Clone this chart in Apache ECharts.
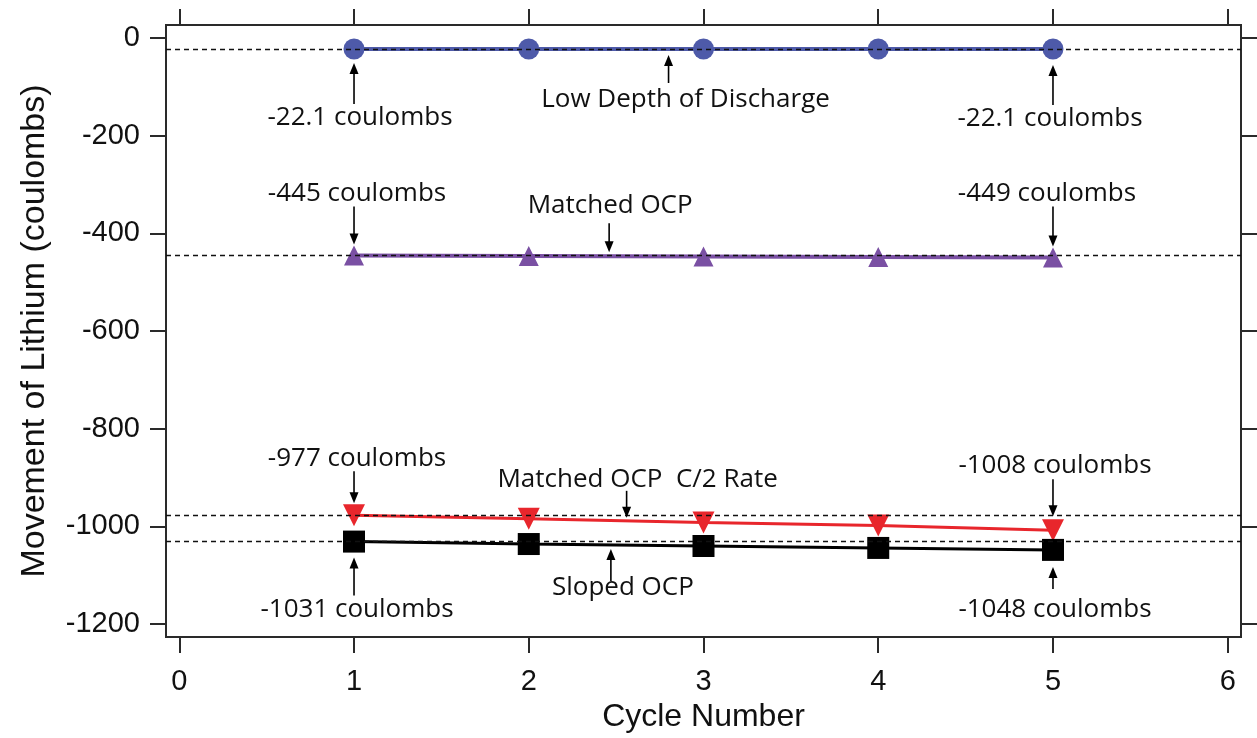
<!DOCTYPE html>
<html>
<head>
<meta charset="utf-8">
<title>Movement of Lithium per Cycle</title>
<script src="https://cdn.jsdelivr.net/npm/echarts@6/dist/echarts.min.js"></script>
<style>
  html, body { margin: 0; padding: 0; background: #fff; }
  #chart { width: 1257px; height: 738px; }
</style>
</head>
<body>
<div id="chart"></div>
<script>
// Cycle numbers and lithium movement (coulombs) for each test condition
const cycles = [1, 2, 3, 4, 5];
const lowDepthOfDischarge = [-22.1, -22.1, -22.1, -22.1, -22.1];
const matchedOCP = [-445, -446, -447, -448, -449];
const matchedOCPHalfC = [-977, -984, -992, -998, -1008];
const slopedOCP = [-1031, -1036, -1040, -1044, -1048];

// Tick values on both axes
const xTicks = [0, 1, 2, 3, 4, 5, 6];
const yTicks = [0, -200, -400, -600, -800, -1000, -1200];

// Callouts: which curve, where along it (cycle), text, and side of the curve
const calloutSeries = ['low', 'low', 'low', 'matched', 'matched', 'matched',
                       'halfC', 'halfC', 'halfC', 'sloped', 'sloped', 'sloped'];
const calloutCycle = [1, 5, 2.8, 1, 5, 2.46, 1, 5, 2.56, 1, 5, 2.47];
const calloutText = ['-22.1 coulombs', '-22.1 coulombs', 'Low Depth of Discharge',
                     '-445 coulombs', '-449 coulombs', 'Matched OCP',
                     '-977 coulombs', '-1008 coulombs', 'Matched OCP  C/2 Rate',
                     '-1031 coulombs', '-1048 coulombs', 'Sloped OCP'];
const calloutSide = ['below', 'below', 'below', 'above', 'above', 'above',
                     'above', 'above', 'above', 'below', 'below', 'below'];

const seriesValues = {
  low: lowDepthOfDischarge,
  matched: matchedOCP,
  halfC: matchedOCPHalfC,
  sloped: slopedOCP
};

// Pixel layout of each callout: arrow tip gap, arrow tail gap, text baseline gap, text x shift
const calloutLayout = [
  [14, 55, 75, 6], [16, 56, 76, -3], [6, 34, 57, 17],
  [11, 49, 56, 3], [11, 51, 58, -6], [4, 33, 45, 1],
  [12, 44, 51, 3], [14, 51, 59, 2], [3, 30, 35, 11],
  [16, 54, 74, 3], [17, 39, 66, 2], [4, 36, 49, 12]
];
// distance from the bottom of a text box to its baseline
const DESCENT = 7;

// Value of a curve at a (possibly fractional) cycle position
function curveValueAt(values, c) {
  for (let i = 0; i < cycles.length - 1; i++) {
    if (c >= cycles[i] && c <= cycles[i + 1]) {
      const t = (c - cycles[i]) / (cycles[i + 1] - cycles[i]);
      return values[i] + t * (values[i + 1] - values[i]);
    }
  }
  return values[c < cycles[0] ? 0 : values.length - 1];
}

const pairs = vals => cycles.map((c, i) => [c, vals[i]]);
const calloutData = calloutCycle.map((c, i) => [c, curveValueAt(seriesValues[calloutSeries[i]], c)]);

const LABEL_FONT = '"Open Sans", "Noto Sans", sans-serif';
const AXIS_FONT = '"Liberation Sans", Arial, Helvetica, sans-serif';
const FRAME = '#2a2a2a';

function refLine(value) {
  return {
    silent: true,
    symbol: ['none', 'none'],
    label: { show: false },
    lineStyle: { color: '#111', type: [5, 4], width: 1.4 },
    data: [{ yAxis: value }],
    z: 6
  };
}

function renderCallout(params, api) {
  const i = params.dataIndex;
  const lay = calloutLayout[i];
  const p = api.coord([api.value(0), api.value(1)]);
  const dir = calloutSide[i] === 'below' ? 1 : -1;
  const x = p[0];
  const tipY = p[1] + dir * lay[0];
  const tailY = p[1] + dir * lay[1];
  const baseY = p[1] + dir * lay[2];
  const head = 11, half = 4.5;
  return {
    type: 'group',
    children: [
      {
        type: 'line',
        shape: { x1: x, y1: tailY, x2: x, y2: tipY + dir * (head - 1) },
        style: { stroke: '#000', lineWidth: 1.6 }
      },
      {
        type: 'polygon',
        shape: { points: [[x, tipY], [x - half, tipY + dir * head], [x + half, tipY + dir * head]] },
        style: { fill: '#000' }
      },
      {
        type: 'text',
        x: x + lay[3],
        y: baseY + DESCENT,
        style: {
          text: calloutText[i],
          font: '26px ' + LABEL_FONT,
          fill: '#111',
          align: 'center',
          verticalAlign: 'bottom'
        }
      }
    ]
  };
}

const tickStyle = { show: true, inside: false, length: 16, lineStyle: { color: FRAME, width: 2 } };
const noLine = { show: false, onZero: false };

const option = {
  animation: false,
  backgroundColor: '#fff',
  grid: {
    left: 166, right: 16, top: 25, height: 617,
    show: true, borderColor: FRAME, borderWidth: 2, backgroundColor: 'transparent'
  },
  xAxis: [
    {
      type: 'value', position: 'bottom', min: -0.076, max: 6.076,
      axisLine: noLine,
      axisTick: Object.assign({ customValues: xTicks }, tickStyle),
      axisLabel: {
        customValues: xTicks, margin: 30, color: '#111',
        fontFamily: AXIS_FONT, fontSize: 29, formatter: v => String(v)
      },
      splitLine: { show: false },
      name: 'Cycle Number', nameLocation: 'middle', nameGap: 64,
      nameTextStyle: { fontFamily: AXIS_FONT, fontSize: 32, color: '#111' }
    },
    {
      type: 'value', position: 'top', min: -0.076, max: 6.076,
      axisLine: noLine,
      axisTick: Object.assign({ customValues: xTicks }, tickStyle),
      axisLabel: { show: false },
      splitLine: { show: false }
    }
  ],
  yAxis: [
    {
      type: 'value', position: 'left', min: -1226.4, max: 27,
      axisLine: noLine,
      axisTick: Object.assign({ customValues: yTicks }, tickStyle),
      axisLabel: {
        customValues: yTicks, margin: 26, color: '#111',
        fontFamily: AXIS_FONT, fontSize: 29, formatter: v => String(v)
      },
      splitLine: { show: false },
      name: 'Movement of Lithium (coulombs)', nameLocation: 'middle', nameGap: 114,
      nameTextStyle: { fontFamily: AXIS_FONT, fontSize: 34, color: '#111' }
    },
    {
      type: 'value', position: 'right', min: -1226.4, max: 27,
      axisLine: noLine,
      axisTick: Object.assign({ customValues: yTicks }, tickStyle),
      axisLabel: { show: false },
      splitLine: { show: false }
    }
  ],
  series: [
    {
      name: 'Low Depth of Discharge', type: 'line', data: pairs(lowDepthOfDischarge),
      symbol: 'circle', symbolSize: 21,
      itemStyle: { color: '#4e5aa9' }, lineStyle: { color: '#4e5aa9', width: 4 },
      markLine: refLine(lowDepthOfDischarge[0])
    },
    {
      name: 'Matched OCP', type: 'line', data: pairs(matchedOCP),
      symbol: 'triangle', symbolSize: [20, 20],
      itemStyle: { color: '#7a50a3' }, lineStyle: { color: '#7a50a3', width: 4 },
      markLine: refLine(matchedOCP[0])
    },
    {
      name: 'Matched OCP C/2 Rate', type: 'line', data: pairs(matchedOCPHalfC),
      symbol: 'triangle', symbolRotate: 180, symbolSize: [22, 22],
      itemStyle: { color: '#e8262c' }, lineStyle: { color: '#e8262c', width: 3 },
      markLine: refLine(matchedOCPHalfC[0])
    },
    {
      name: 'Sloped OCP', type: 'line', data: pairs(slopedOCP),
      symbol: 'rect', symbolSize: 22,
      itemStyle: { color: '#000' }, lineStyle: { color: '#000', width: 3 },
      markLine: refLine(slopedOCP[0])
    },
    {
      name: 'callouts', type: 'custom', data: calloutData,
      renderItem: renderCallout, clip: false, silent: true, z: 10
    }
  ]
};

const chart = echarts.init(document.getElementById('chart'), null, { renderer: 'canvas' });
chart.setOption(option);
</script>
</body>
</html>
